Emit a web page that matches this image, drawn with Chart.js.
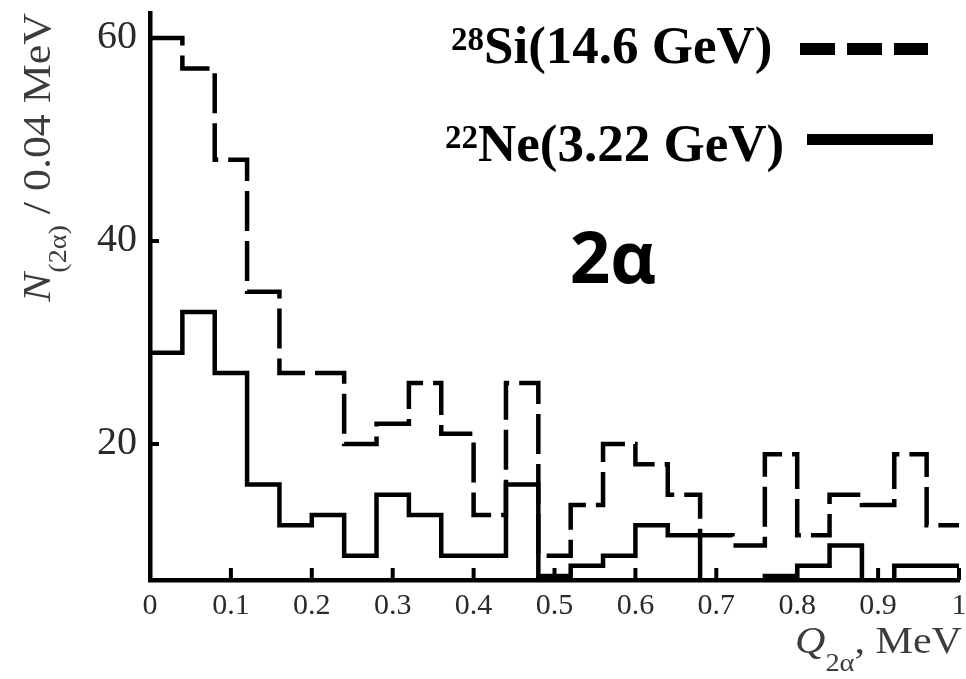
<!DOCTYPE html>
<html>
<head>
<meta charset="utf-8">
<script src="https://cdn.jsdelivr.net/npm/chart.js@4/dist/chart.umd.min.js"></script>
<style>
html,body{margin:0;padding:0;background:#fff;}
#wrap{width:966px;height:679px;position:relative;}
</style>
</head>
<body>
<div id="wrap"><canvas id="c"></canvas></div>
<script>
// ---- data ----
const binEdges = [0.00,0.04,0.08,0.12,0.16,0.20,0.24,0.28,0.32,0.36,0.40,0.44,0.48,0.52,0.56,0.60,0.64,0.68,0.72,0.76,0.80,0.84,0.88,0.92,0.96];
const binUpperEdge = 1.00;
const si28Counts = [60,57,48,35,27,27,20,22,26,21,13,26,9,14,20,18,15,11,10,19,11,15,14,19,12];
const ne22Counts = [29,33,27,16,12,13,9,15,13,9,9,16,7,8,9,12,11,6,6,7,8,10,6,8,8];
const xTickValues = [0,0.1,0.2,0.3,0.4,0.5,0.6,0.7,0.8,0.9,1];
const xTickLabels = ['0','0.1','0.2','0.3','0.4','0.5','0.6','0.7','0.8','0.9','1'];
const yTickValues = [20,40,60];
const yTickLabels = ['20','40','60'];
const seriesSup = ['28','22'];
const seriesNames = ['Si(14.6 GeV)','Ne(3.22 GeV)'];
const panelLabel = '2α';

function histPoints(counts){
  const pts = binEdges.map((x,i)=>({x:x, y:counts[i]}));
  pts.push({x:binUpperEdge, y:counts[counts.length-1]});
  return pts;
}

function drawRich(ctx, segs, x, y, opts){
  let w = 0;
  segs.forEach(s=>{ ctx.font = s.font; s.w = ctx.measureText(s.t).width; w += s.w; });
  const sx = opts.width ? opts.width / w : 1;
  ctx.save();
  ctx.translate(x, y);
  if (opts.rotate) ctx.rotate(opts.rotate);
  ctx.scale(sx, 1);
  let cx = 0;
  if (opts.align === 'right') cx = -w; else if (opts.align === 'center') cx = -w/2;
  ctx.textBaseline = 'alphabetic';
  ctx.textAlign = 'left';
  segs.forEach(s=>{
    ctx.font = s.font;
    ctx.fillStyle = s.color || opts.color || '#000';
    ctx.fillText(s.t, cx, s.dy || 0);
    cx += s.w;
  });
  ctx.restore();
}

const SERIF = '"Liberation Serif","Times New Roman",serif';

const insideTicks = {
  id: 'insideTicks',
  afterDatasetsDraw(chart){
    const ctx = chart.ctx, a = chart.chartArea;
    const xs = chart.scales.x, ys = chart.scales.y;
    ctx.save();
    ctx.strokeStyle = '#000';
    ctx.lineWidth = 4;
    ctx.lineCap = 'butt';
    xTickValues.forEach(v=>{
      if (v === xTickValues[0]) return;
      const px = xs.getPixelForValue(v);
      ctx.beginPath(); ctx.moveTo(px, a.bottom); ctx.lineTo(px, a.bottom - 12); ctx.stroke();
    });
    yTickValues.forEach(v=>{
      const py = ys.getPixelForValue(v);
      ctx.beginPath(); ctx.moveTo(a.left, py); ctx.lineTo(a.left + 9, py); ctx.stroke();
    });
    ctx.restore();
  }
};

const annotations = {
  id: 'annotations',
  afterDraw(chart){
    const ctx = chart.ctx;
    // legend rows
    drawRich(ctx, [
      {t: seriesSup[0], font: 'bold 33px ' + SERIF, dy: -13},
      {t: seriesNames[0], font: 'bold 53px ' + SERIF}
    ], 451, 63, {color:'#000'});
    drawRich(ctx, [
      {t: seriesSup[1], font: 'bold 33px ' + SERIF, dy: -13},
      {t: seriesNames[1], font: 'bold 53px ' + SERIF}
    ], 445, 161, {color:'#000'});
    ctx.save();
    ctx.strokeStyle = '#000';
    ctx.lineCap = 'butt';
    ctx.lineWidth = 12;
    ctx.setLineDash([35,12]);
    ctx.beginPath(); ctx.moveTo(800, 49); ctx.lineTo(928, 49); ctx.stroke();
    ctx.setLineDash([]);
    ctx.lineWidth = 11;
    ctx.beginPath(); ctx.moveTo(807, 139.5); ctx.lineTo(933, 139.5); ctx.stroke();
    ctx.restore();
    // panel label
    drawRich(ctx, [{t: panelLabel, font: 'bold 71px "Open Sans","Noto Sans",sans-serif'}], 613, 283, {align:'center', color:'#000'});
    // y axis title
    drawRich(ctx, [
      {t:'N', font:'italic 39px ' + SERIF},
      {t:'(2α)', font:'25px ' + SERIF, dy: 16},
      {t:' / 0.04 MeV', font:'39px ' + SERIF}
    ], 50, 302, {rotate: -Math.PI/2, width: 289, color:'#3c3c3c'});
    // x axis title
    drawRich(ctx, [
      {t:'Q', font:'italic 37px ' + SERIF},
      {t:'2α', font:'25px ' + SERIF, dy: 18},
      {t:', MeV', font:'37px ' + SERIF}
    ], 962, 653, {align:'right', width: 167, color:'#3c3c3c'});
  }
};

function noPad(s){ s.paddingTop = 0; s.paddingBottom = 0; s.paddingLeft = 0; s.paddingRight = 0; }

new Chart(document.getElementById('c'), {
  type: 'line',
  data: {
    datasets: [
      {
        label: seriesSup[0] + seriesNames[0],
        data: histPoints(si28Counts),
        stepped: true,
        borderColor: '#000',
        borderWidth: 4.5,
        borderDash: [40,10],
        borderCapStyle: 'butt',
        borderJoinStyle: 'miter',
        pointRadius: 0,
        fill: false
      },
      {
        label: seriesSup[1] + seriesNames[1],
        data: histPoints(ne22Counts),
        stepped: true,
        borderColor: '#000',
        borderWidth: 4.5,
        borderCapStyle: 'butt',
        borderJoinStyle: 'miter',
        pointRadius: 0,
        fill: false
      }
    ]
  },
  options: {
    responsive: true,
    maintainAspectRatio: false,
    animation: false,
    layout: { padding: { top: 13, right: 7, left: 0, bottom: 0 } },
    plugins: { legend: { display: false }, tooltip: { enabled: false } },
    scales: {
      x: {
        type: 'linear',
        min: 0, max: 1,
        afterBuildTicks: s => { s.ticks = xTickValues.map(v=>({value:v})); },
        afterFit: s => { s.height = 99; noPad(s); },
        ticks: {
          autoSkip: false, maxRotation: 0, padding: 8,
          color: '#2a2a2a',
          font: { family: 'Liberation Serif', size: 30 },
          callback: (v, i) => xTickLabels[i]
        },
        grid: { display: false, drawTicks: false },
        border: { display: true, color: '#000', width: 4.5 }
      },
      y: {
        type: 'linear',
        min: 6.6, max: 62.46,
        afterBuildTicks: s => { s.ticks = yTickValues.map(v=>({value:v})); },
        afterFit: s => { s.width = 150; noPad(s); },
        ticks: {
          padding: 13,
          color: '#2a2a2a',
          font: { family: 'Liberation Serif', size: 40 },
          callback: (v, i) => yTickLabels[i]
        },
        grid: { display: false, drawTicks: false },
        border: { display: true, color: '#000', width: 4.5 }
      }
    }
  },
  plugins: [insideTicks, annotations]
});
</script>
</body>
</html>
